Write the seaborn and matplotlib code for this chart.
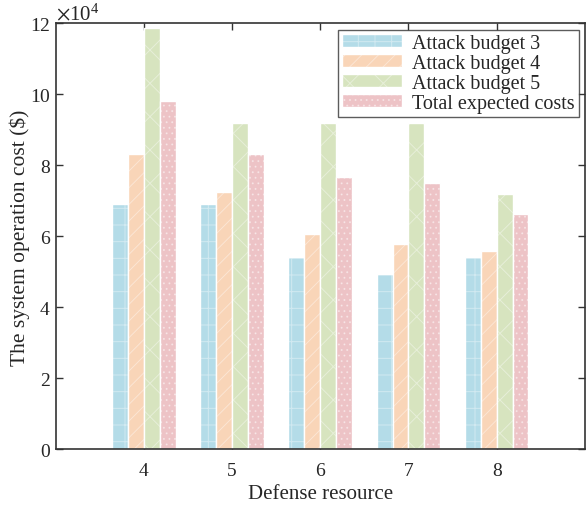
import numpy as np
import pandas as pd
import matplotlib
matplotlib.use("Agg")
import matplotlib.pyplot as plt
import seaborn as sns
from matplotlib.ticker import ScalarFormatter

# values (units: $)
defense = [4, 5, 6, 7, 8]
budget3 = [6.92e4, 6.92e4, 5.42e4, 4.93e4, 5.42e4]
budget4 = [8.32e4, 7.26e4, 6.07e4, 5.79e4, 5.59e4]
budget5 = [11.88e4, 9.20e4, 9.20e4, 9.20e4, 7.20e4]
total_cost = [9.82e4, 8.32e4, 7.68e4, 7.51e4, 6.63e4]

series_names = ["Attack budget 3", "Attack budget 4", "Attack budget 5", "Total expected costs"]
colors = ["#b4dce8", "#f9d5b8", "#d7e4bf", "#edc3c6"]
hatches = ["+", "//", "x", "..."]

df = pd.DataFrame({
    "Defense resource": defense * 4,
    "cost": budget3 + budget4 + budget5 + total_cost,
    "series": np.repeat(series_names, len(defense)),
})

sns.set_style("ticks")
plt.rcParams["font.family"] = ["Liberation Serif", "DejaVu Serif"]
plt.rcParams["mathtext.fontset"] = "stix"
plt.rcParams["hatch.linewidth"] = 0.7

fig = plt.figure(figsize=(5.86, 5.10), dpi=100)
ax = fig.add_axes([0.095, 0.117, 0.903, 0.835])

sns.barplot(data=df, x="Defense resource", y="cost", hue="series",
            hue_order=series_names, palette=colors, saturation=1,
            native_scale=True, width=0.72, errorbar=None,
            edgecolor="white", linewidth=1.0, ax=ax, legend=False)

# faint white hatching like the reference
for cont, h in zip(ax.containers, hatches):
    for p in cont.patches:
        p.set_hatch(h)
        p.set_edgecolor("white")
        p._hatch_color = (1, 1, 1, 0.4)

ax.set_xlim(3, 9)
ax.set_ylim(0, 12e4)
ax.set_xticks(defense)
ax.set_yticks(np.arange(0, 12.1e4, 2e4))

fmt = ScalarFormatter(useMathText=True)
fmt.set_powerlimits((4, 4))
ax.yaxis.set_major_formatter(fmt)
ax.yaxis.get_offset_text().set_fontsize(15)

ax.tick_params(direction="in", top=True, right=True, length=5, width=1,
               labelsize=14, color="#333333")
ax.tick_params(axis="x", pad=9)
for s in ax.spines.values():
    s.set_visible(True)
    s.set_linewidth(1.2)
    s.set_color("#333333")

ax.set_xlabel("Defense resource", fontsize=15, labelpad=4)
ax.set_ylabel("The system operation cost (\\$)", fontsize=15.5, labelpad=0)

leg = ax.legend(ax.containers, series_names, loc="upper right", fontsize=14.5,
                frameon=True, fancybox=False, edgecolor="#333333",
                handlelength=3.0, handleheight=0.6, labelspacing=0.05,
                borderpad=0.2, handletextpad=0.5, borderaxespad=0.3)
leg.get_frame().set_linewidth(1.0)

fig.savefig("out.png", dpi=100)
